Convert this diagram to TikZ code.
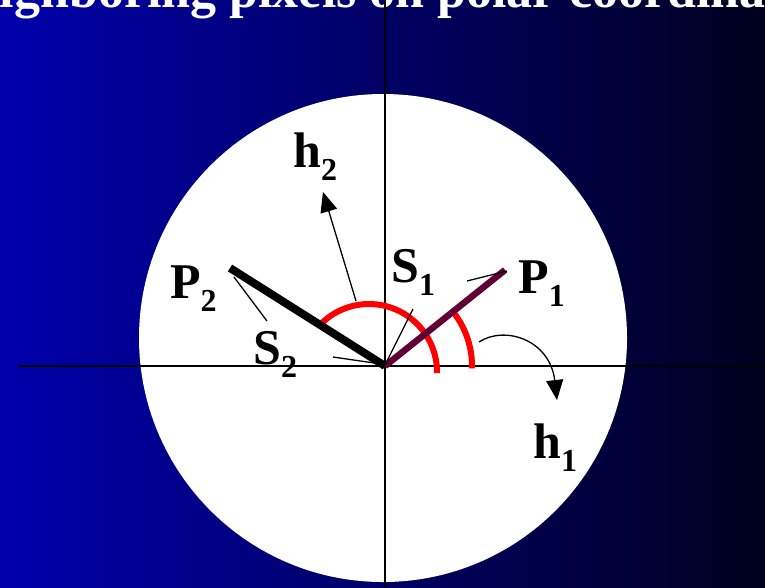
\documentclass[tikz,border=0pt]{standalone}
\usepackage{fontspec}
\setmainfont{Liberation Serif}
\usepackage{tikz}
\usetikzlibrary{arrows.meta}
\definecolor{bgl}{RGB}{0,0,172}
\definecolor{bgr}{RGB}{0,0,30}
\definecolor{segone}{RGB}{96,0,52}
\tikzset{lab/.style={font=\bfseries\fontsize{50}{50}\selectfont,inner sep=0pt,anchor=base west},
  ttl/.style={font=\bfseries\fontsize{52}{52}\selectfont,text=white,inner sep=0pt,anchor=base west},
  axis/.style={line width=1.8pt},
  seg/.style={line width=#1},
  ang/.style={draw=red,line width=6pt},
  lead/.style={line width=1.3pt},
  arr/.style={lead,-{Triangle[length=20pt,width=17pt]}}}
\newcommand{\lbl}[2]{#1\raisebox{-13pt}{\fontsize{32}{32}\selectfont #2}}

\begin{document}
\begin{tikzpicture}[x=1pt,y=-1pt]
\useasboundingbox (0,0) rectangle (765,587);
\clip (0,0) rectangle (765,587);
\shade[left color=bgl,right color=bgr] (0,0) rectangle (765,587);
\node[ttl] (title) at (-61,7) {Neighboring pixels on polar coordinates};
\fill[white] (383,338) circle[radius=244pt];
% axes
\coordinate (O) at (385,366);
\draw[axis] (18,366) -- (765,366);
\draw[axis] (385,0) -- (385,587);
% angles
\coordinate (cb) at (369,372);
\draw[ang] (cb) ++(137:68pt) arc[start angle=137,end angle=-1,radius=68pt];
\draw[ang] (O) ++(38.7:87pt) arc[start angle=38.7,end angle=-1.5,radius=87pt];
% the two segments
\coordinate (p1) at (505,270);
\coordinate (p2) at (230,268);
\draw[seg=6.5pt,segone] (O) -- (p1);
\draw[seg=8pt] (O) -- (p2);
% labels
\node[lab] (h2) at (293,167) {\lbl{h}{2}};
\node[lab] (P2) at (170,298) {\lbl{P}{2}};
\node[lab] (S2) at (253,364) {\lbl{S}{2}};
\node[lab] (S1) at (391,282) {\lbl{S}{1}};
\node[lab] (P1) at (518,293) {\lbl{P}{1}};
\node[lab] (h1) at (533,458) {\lbl{h}{1}};
% leaders
\coordinate (h2s) at (356,301); \coordinate (h2t) at (323,192);
\coordinate (s1a) at (413,309); \coordinate (s1b) at (387,361);
\coordinate (s2a) at (267,321); \coordinate (s2b) at (234,277);
\coordinate (s2c) at (333,357); \coordinate (s2d) at (381,364);
\coordinate (p1a) at (467,281); \coordinate (p1b) at (507,271);
\coordinate (h1s) at (479,342); \coordinate (h1t) at (557,400);
\draw[arr] (h2s) -- (h2t);
\draw[lead] (s1a) -- (s1b);
\draw[lead] (s2a) -- (s2b);
\draw[lead] (s2c) -- (s2d);
\draw[lead] (p1a) -- (p1b);
\draw[arr] (h1s) .. controls (505,325) and (550,340) .. (h1t);
\end{tikzpicture}
\end{document}
